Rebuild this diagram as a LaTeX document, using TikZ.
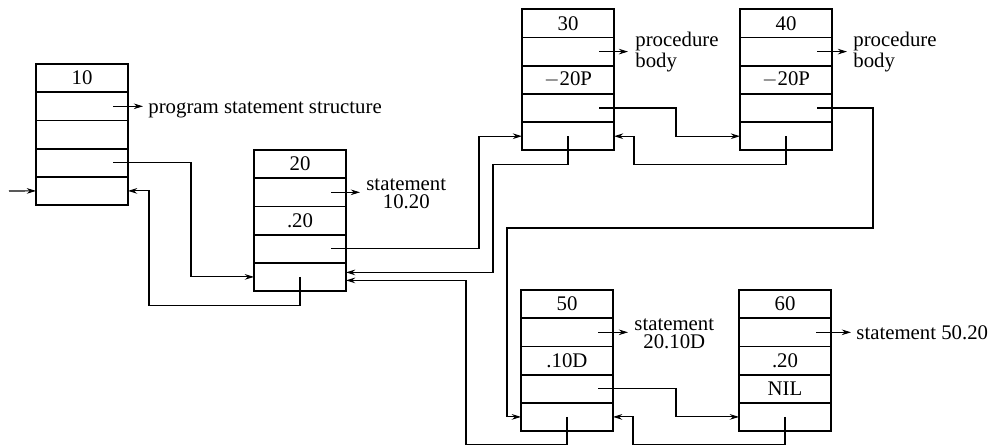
\documentclass[tikz,border=0pt]{standalone}
\usepackage{fontspec}
\setmainfont{Liberation Serif}
\usetikzlibrary{arrows.meta,calc}

\begin{document}
\begin{tikzpicture}[x=0.5pt,y=-0.5pt]
        \tikzset{cell/.style={draw, line width=0.9pt, minimum width=46pt, minimum height=14.1pt, inner sep=0pt, outer sep=0pt, anchor=north west, font=\fontsize{10.4}{9}\selectfont},
                 ptr/.style={-{Stealth[length=4.6pt, width=2.8pt]}, line width=0.55pt},
                 note/.style={anchor=base west, inner sep=0pt, font=\fontsize{10.4}{9}\selectfont}}
        \useasboundingbox (0,0) rectangle (990,446);

        % records
        \foreach \t [count=\i] in {10,{},{},{},{}}
            \node[cell] (b10-\i) at (36,{64+(\i-1)*28.2}) {\t};
        \foreach \t [count=\i] in {20,{},.20,{},{}}
            \node[cell] (b20-\i) at (254,{150+(\i-1)*28.2}) {\t};
        \foreach \t [count=\i] in {30,{},$-$20P,{},{}}
            \node[cell] (b30-\i) at (522,{9.3+(\i-1)*28.2}) {\t};
        \foreach \t [count=\i] in {40,{},$-$20P,{},{}}
            \node[cell] (b40-\i) at (740,{9.3+(\i-1)*28.2}) {\t};
        \foreach \t [count=\i] in {50,{},.10D,{},{}}
            \node[cell] (b50-\i) at (521,{290+(\i-1)*28.2}) {\t};
        \foreach \t [count=\i] in {60,{},.20,NIL,{}}
            \node[cell] (b60-\i) at (739,{290+(\i-1)*28.2}) {\t};

        % pointers out to the texts
        \coordinate (t10) at ($(b10-2.east)+(15,0)$);
        \coordinate (t20) at ($(b20-2.east)+(14,0)$);
        \coordinate (t30) at ($(b30-2.east)+(14,0)$);
        \coordinate (t40) at ($(b40-2.east)+(15,0)$);
        \coordinate (t50) at ($(b50-2.east)+(15,0)$);
        \coordinate (t60) at ($(b60-2.east)+(20,0)$);
        \draw[ptr] ($(b10-2.east)+(-15,0)$) -- (t10);
        \draw[ptr] ($(b20-2.east)+(-15,0)$) -- (t20);
        \draw[ptr] ($(b30-2.east)+(-15,0)$) -- (t30);
        \draw[ptr] ($(b40-2.east)+(-15,0)$) -- (t40);
        \draw[ptr] ($(b50-2.east)+(-15,0)$) -- (t50);
        \draw[ptr] ($(b60-2.east)+(-15,0)$) -- (t60);
        \node[note] (n10) at ($(t10)+(5,6.7)$) {program statement structure};
        \node[note, align=center] (n20) at ($(t20)+(6,16)$) {statement\\10.20};
        \node[note, align=left] (n30) at ($(t30)+(7,16)$) {procedure\\body};
        \node[note, align=left] (n40) at ($(t40)+(6,16)$) {procedure\\body};
        \node[note, align=center] (n50) at ($(t50)+(6,16)$) {statement\\20.10D};
        \node[note] (n60) at ($(t60)+(5,6.7)$) {statement 50.20};

        % forward links
        \coordinate (in) at (9,191);
        \draw[ptr] (in) -- (b10-5.west);
        \draw[ptr] ($(b10-4.east)+(-15,0)$) -- ++(78,0) |- (b20-5.west);
        \draw[ptr] ($(b20-4.east)+(-15,0)$) -- ++(148,0) |- (b30-5.west);
        \draw[ptr] ($(b30-4.east)+(-15,0)$) -- ++(77,0) |- (b40-5.west);
        \draw[ptr] ($(b40-4.east)+(-15,0)$) -| ++(56,120) -| ($(b50-5.west)+(-14,0)$) -- (b50-5.west);
        \draw[ptr] ($(b50-4.east)+(-15,0)$) -- ++(78,0) |- (b60-5.west);

        % back links
        \draw[ptr] (b20-5.center) -- ++(0,28.5) -| ($(b10-5.east)+(21,0)$) -- (b10-5.east);
        \draw[ptr] (b30-5.center) -- ++(0,28) -| ($(b20-5.east)+(147,-4.5)$) -- ($(b20-5.east)+(0,-4.5)$);
        \draw[ptr] (b40-5.center) -- ++(0,28) -| ($(b30-5.east)+(20,0)$) -- (b30-5.east);
        \draw[ptr] (b50-5.center) -- ++(0,28) -| ($(b20-5.east)+(120,3.5)$) -- ($(b20-5.east)+(0,3.5)$);
        \draw[ptr] (b60-5.center) -- ++(0,28) -| ($(b50-5.east)+(20,0)$) -- (b50-5.east);
\end{tikzpicture}
\end{document}
